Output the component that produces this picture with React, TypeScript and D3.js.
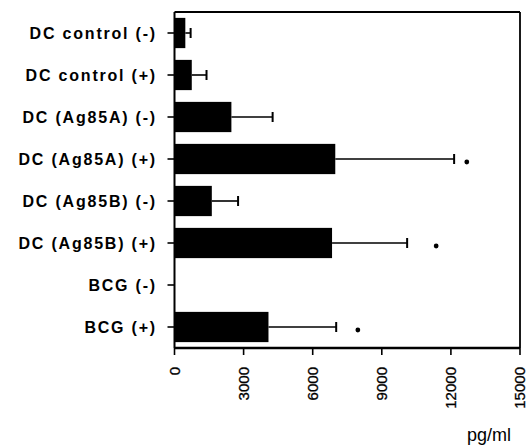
import React from 'react';
import * as d3 from 'd3';

const categories = [
  'DC control (-)',
  'DC control (+)',
  'DC (Ag85A) (-)',
  'DC (Ag85A) (+)',
  'DC (Ag85B) (-)',
  'DC (Ag85B) (+)',
  'BCG (-)',
  'BCG (+)',
];
const means = [470, 750, 2470, 6980, 1620, 6840, 0, 4080];
const errTops = [700, 1390, 4260, 12140, 2760, 10100, 0, 7020];
// significance dots (null = none)
const marks = [null, null, null, 12690, null, 11360, null, 7960];
const xTicks = [0, 3000, 6000, 9000, 12000, 15000];
const unitLabel = 'pg/ml';

function App() {
  const width = 528;
  const height = 448;
  const left = 174.5;
  const right = 520;
  const top = 12;
  const bottom = 348;

  const x = d3.scaleLinear().domain([0, 15000]).range([left, right]);
  const y = d3.scaleBand().domain(categories).range([top, bottom]).paddingInner(0.28).paddingOuter(0.14);

  const font = 'Arial, "Liberation Sans", sans-serif';

  return (
    <svg width={width} height={height} style={{ position: 'absolute', left: 0, top: 0, background: '#fff' }}>
      {/* bars */}
      {categories.map((c, i) => (
        <rect key={c} x={x(0)} y={y(c)} width={x(means[i]) - x(0)} height={y.bandwidth()} fill="#000" />
      ))}
      {/* error bars */}
      {categories.map((c, i) => {
        if (errTops[i] <= means[i]) return null;
        const cy = (y(c) as number) + y.bandwidth() / 2;
        return (
          <g key={'e' + c} stroke="#000">
            <line x1={x(means[i])} x2={x(errTops[i])} y1={cy} y2={cy} strokeWidth={1.6} />
            <line x1={x(errTops[i])} x2={x(errTops[i])} y1={cy - 5} y2={cy + 5} strokeWidth={2} />
          </g>
        );
      })}
      {/* dots */}
      {categories.map((c, i) => {
        const m = marks[i];
        if (m == null) return null;
        const cy = (y(c) as number) + y.bandwidth() / 2 + 3;
        return <circle key={'d' + c} cx={x(m)} cy={cy} r={2.4} fill="#000" />;
      })}
      {/* frame */}
      <line x1={left} x2={right} y1={top} y2={top} stroke="#000" strokeWidth={1.8} />
      <line x1={right} x2={right} y1={top} y2={bottom} stroke="#000" strokeWidth={1.8} />
      <line x1={left} x2={left} y1={top} y2={bottom} stroke="#000" strokeWidth={2} />
      <line x1={left} x2={right} y1={bottom} y2={bottom} stroke="#000" strokeWidth={2.6} />
      {/* category axis */}
      {categories.map((c) => {
        const cy = (y(c) as number) + y.bandwidth() / 2;
        return (
          <g key={'t' + c}>
            <line x1={left - 7} x2={left} y1={cy} y2={cy} stroke="#000" strokeWidth={1.6} />
            <text
              x={157}
              y={cy}
              dy="0.36em"
              textAnchor="end"
              fontFamily={font}
              fontWeight="bold"
              fontSize={16}
              letterSpacing={1.8}
            >
              {c}
            </text>
          </g>
        );
      })}
      {/* value axis */}
      {xTicks.map((t) => (
        <g key={'x' + t}>
          <line x1={x(t)} x2={x(t)} y1={bottom} y2={bottom + 7} stroke="#000" strokeWidth={1.6} />
          <text
            transform={`translate(${x(t)},${bottom + 19}) rotate(-90)`}
            dy="0.36em"
            textAnchor="end"
            fontFamily={font}
            fontSize={15}
            stroke="#000"
            strokeWidth={0.3}
          >
            {t}
          </text>
        </g>
      ))}
      <text x={511} y={441} textAnchor="end" fontFamily={font} fontSize={18}>
        {unitLabel}
      </text>
    </svg>
  );
}

export default App;
